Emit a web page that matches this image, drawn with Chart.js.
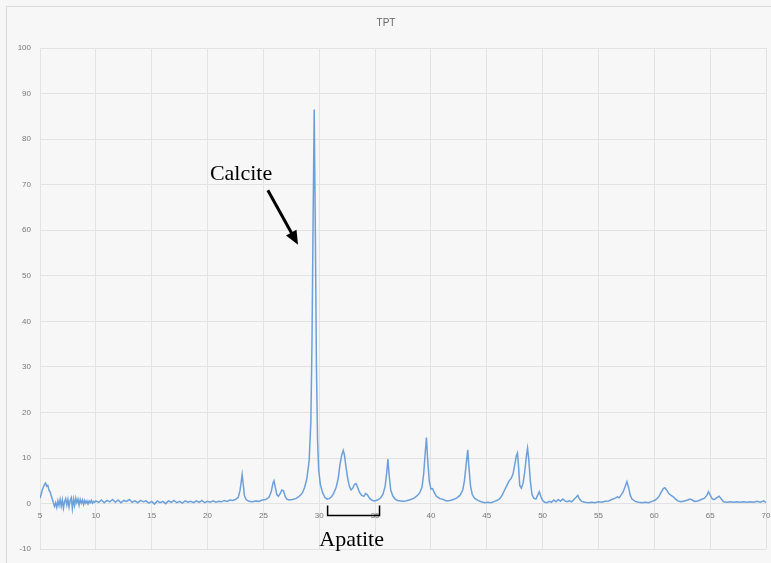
<!DOCTYPE html>
<html>
<head>
<meta charset="utf-8">
<script src="https://cdn.jsdelivr.net/npm/chart.js@4"></script>
<style>
  html, body { margin: 0; padding: 0; background: #fff; }
  #wrap { width: 771px; height: 563px; }
</style>
</head>
<body>
<div id="wrap"><canvas id="xrd" width="771" height="563"></canvas></div>
<script>
// TPT diffractogram, 2-theta vs intensity
const twoTheta = [
  5.0, 5.1, 5.2, 5.3, 5.4, 5.5, 5.6, 5.7, 5.8, 5.9, 6.0, 6.1, 6.2, 6.3, 6.4, 6.5, 6.6, 6.7, 6.8, 6.9,
  7.0, 7.1, 7.2, 7.3, 7.4, 7.5, 7.6, 7.7, 7.8, 7.9, 8.0, 8.1, 8.2, 8.3, 8.4, 8.5, 8.6, 8.7, 8.8, 8.9,
  9.0, 9.1, 9.2, 9.3, 9.4, 9.5, 9.6, 9.7, 9.8, 9.9, 10.0,
  10.25, 10.5, 10.75, 11, 11.25, 11.5, 11.75, 12, 12.25, 12.5, 12.75, 13, 13.25, 13.5, 13.75, 14,
  14.25, 14.5, 14.75, 15, 15.25, 15.5, 15.75, 16, 16.25, 16.5, 16.75, 17, 17.25, 17.5, 17.75, 18,
  18.25, 18.5, 18.75, 19, 19.25, 19.5, 19.75, 20, 20.25, 20.5, 20.75, 21, 21.25, 21.5, 21.75, 22,
  22.25, 22.5, 22.75, 22.9, 23.0, 23.1, 23.2, 23.3, 23.45, 23.7, 24.0, 24.3, 24.6, 24.9, 25.2, 25.5,
  25.7, 25.85, 25.95, 26.05, 26.2, 26.35, 26.5, 26.65, 26.8, 26.95, 27.1, 27.3, 27.6, 27.9, 28.1,
  28.3, 28.5, 28.7, 28.9, 29.1, 29.25, 29.35, 29.45, 29.55, 29.65, 29.75, 29.85, 29.95, 30.1, 30.3,
  30.5, 30.7, 30.9, 31.1, 31.3, 31.5, 31.7, 31.85, 32.0, 32.15, 32.25, 32.4, 32.55, 32.7, 32.85,
  33.0, 33.15, 33.3, 33.45, 33.6, 33.8, 34.0, 34.15, 34.3, 34.5, 34.7, 34.9, 35.1, 35.3, 35.5, 35.7,
  35.9, 36.05, 36.15, 36.25, 36.4, 36.6, 36.8, 37.0, 37.3, 37.6, 37.9, 38.2, 38.5, 38.8, 39.0, 39.2,
  39.35, 39.5, 39.6, 39.7, 39.85, 40.0, 40.15, 40.3, 40.5, 40.8, 41.1, 41.4, 41.7, 42.0, 42.3, 42.6,
  42.85, 43.0, 43.15, 43.3, 43.4, 43.55, 43.7, 43.9, 44.2, 44.5, 44.8, 45.1, 45.4, 45.7, 46.0, 46.2,
  46.4, 46.6, 46.8, 47.0, 47.2, 47.35, 47.5, 47.65, 47.75, 47.85, 47.95, 48.1, 48.25, 48.4, 48.55,
  48.65, 48.75, 48.9, 49.05, 49.2, 49.4, 49.55, 49.7, 49.85, 50.0, 50.2, 50.4, 50.6, 50.8, 51.0,
  51.2, 51.4, 51.6, 51.8, 52.0, 52.2, 52.4, 52.6, 52.8, 53.0, 53.15, 53.3, 53.5, 53.8, 54.1, 54.4,
  54.7, 55.0, 55.3, 55.6, 55.9, 56.2, 56.5, 56.7, 56.85, 57.0, 57.2, 57.4, 57.55, 57.7, 57.85, 58.0,
  58.3, 58.6, 58.9, 59.2, 59.5, 59.8, 60.1, 60.4, 60.6, 60.8, 60.95, 61.1, 61.3, 61.5, 61.7, 61.9,
  62.1, 62.4, 62.7, 63.0, 63.2, 63.4, 63.6, 63.9, 64.2, 64.5, 64.7, 64.85, 65.0, 65.2, 65.4, 65.6,
  65.8, 66.0, 66.2, 66.5, 66.8, 67.1, 67.4, 67.7, 68.0, 68.3, 68.6, 68.9, 69.2, 69.5, 69.8, 70.0
];
const intensity = [
  1.2, 2.0, 3.0, 3.6, 4.2, 4.5, 3.8, 4.0, 3.0, 2.6, 1.8, 1.0, 0.2, -0.6, 0.2, -0.8, 0.6, -0.4, 0.9, -0.6,
  0.8, -1.0, 0.4, 1.1, -0.3, 0.9, -0.7, 0.7, 1.3, -1.1, 1.0, -0.4, 1.2, 0.2, 1.0, -0.3, 0.9, 0.1, 0.8, -0.2,
  0.7, 0.1, 0.6, -0.1, 0.6, 0.2, 0.7, 0.1, 0.5, 0.3, 0.6,
  0.3, 0.8, 0.2, 0.7, 0.4, 0.9, 0.3, 0.8, 0.2, 0.7, 0.5, 0.9, 0.3, 0.6, 0.2, 0.7,
  0.4, 0.6, 0.1, 0.5, -0.1, 0.6, 0.2, 0.5, 0.0, 0.6, 0.3, 0.7, 0.2, 0.5, 0.1, 0.6,
  0.3, 0.5, 0.2, 0.6, 0.3, 0.7, 0.2, 0.5, 0.3, 0.6, 0.3, 0.5, 0.4, 0.7, 0.5, 0.8,
  0.7, 0.9, 1.4, 2.8, 4.5, 6.4, 4.2, 1.8, 0.9, 0.5, 0.4, 0.6, 0.5, 0.8, 0.9, 1.4,
  2.6, 4.4, 5.0, 3.8, 2.0, 1.6, 2.2, 3.0, 2.8, 1.6, 1.0, 0.8, 0.9, 1.1, 1.4,
  1.8, 2.4, 3.6, 5.6, 9.5, 18, 35, 62, 86.5, 60, 30, 14, 7.5, 4.2, 2.4,
  1.4, 1.0, 1.1, 1.5, 2.3, 3.5, 5.5, 8.5, 10.5, 11.7, 10.8, 8.0, 5.5, 3.8, 3.0,
  3.4, 4.2, 4.4, 3.5, 2.5, 1.8, 1.6, 2.2, 2.0, 1.2, 0.8, 0.6, 0.7, 0.9, 1.3, 2.0,
  3.8, 7.0, 9.8, 6.5, 3.0, 1.6, 1.0, 0.7, 0.6, 0.5, 0.7, 0.9, 1.2, 1.8, 2.4, 3.6,
  6.5, 11.5, 14.5, 10.0, 5.0, 3.2, 3.3, 2.4, 1.6, 1.1, 0.9, 0.6, 0.7, 0.9, 1.2, 1.8,
  3.0, 5.0, 8.5, 11.8, 8.0, 3.8, 2.0, 1.2, 0.7, 0.4, 0.2, 0.3, 0.2, 0.5, 0.8, 1.2,
  2.0, 3.0, 4.0, 5.0, 5.6, 6.5, 8.5, 10.5, 11.1, 8.0, 4.0, 3.4, 4.5, 7.0, 10.5,
  12.2, 10.0, 5.0, 2.0, 1.2, 1.0, 1.8, 2.6, 1.5, 0.7, 0.3, 0.2, 0.5, 0.3, 0.8,
  0.4, 0.9, 0.5, 1.0, 0.6, 0.4, 0.6, 0.4, 0.9, 1.4, 1.8, 1.0, 0.5, 0.3, 0.2, 0.3,
  0.2, 0.4, 0.3, 0.5, 0.6, 0.9, 1.2, 1.5, 1.3, 1.8, 2.5, 3.8, 4.8, 3.5, 1.8, 1.0,
  0.5, 0.3, 0.2, 0.3, 0.2, 0.5, 0.8, 1.5, 2.4, 3.3, 3.5, 3.0, 2.2, 1.8, 1.5, 1.0,
  0.6, 0.4, 0.6, 0.8, 1.0, 0.8, 0.5, 0.6, 0.9, 1.2, 1.8, 2.6, 1.9, 1.0, 0.9, 1.3,
  1.6, 1.0, 0.4, 0.3, 0.4, 0.3, 0.4, 0.3, 0.4, 0.3, 0.4, 0.3, 0.5, 0.3, 0.6, 0.2
];

const chartTitle = "TPT";
const calciteLabel = "Calcite";
const apatiteLabel = "Apatite";
const apatiteRange = [30.75, 35.4];

const points = twoTheta.map((t, i) => ({ x: t, y: intensity[i] }));

const notes = {
  id: "notes",
  beforeDraw(chart) {
    const c = chart.ctx;
    c.save();
    c.fillStyle = "#f7f7f7";
    c.fillRect(0, 0, chart.width, chart.height);
    c.strokeStyle = "#d9d9d9";
    c.lineWidth = 1;
    c.strokeRect(6.5, 6.5, chart.width - 6, chart.height - 6);
    c.restore();
  },
  afterDraw(chart) {
    const c = chart.ctx;
    const xs = chart.scales.x, ys = chart.scales.y;
    c.save();
    c.fillStyle = "#000";
    c.strokeStyle = "#000";
    c.font = "22px 'Liberation Serif', 'Times New Roman', serif";
    c.textAlign = "center";
    c.textBaseline = "middle";
    c.fillText(calciteLabel, xs.getPixelForValue(23.0), ys.getPixelForValue(72.4));
    c.fillText(apatiteLabel, xs.getPixelForValue(32.9), ys.getPixelForValue(-8.0));

    // arrow to the calcite peak
    const x0 = xs.getPixelForValue(25.4), y0 = ys.getPixelForValue(68.8);
    const x1 = xs.getPixelForValue(28.1), y1 = ys.getPixelForValue(56.8);
    const ang = Math.atan2(y1 - y0, x1 - x0);
    c.lineWidth = 3;
    c.beginPath();
    c.moveTo(x0, y0);
    c.lineTo(x1 - 10 * Math.cos(ang), y1 - 10 * Math.sin(ang));
    c.stroke();
    c.beginPath();
    c.moveTo(x1, y1);
    c.lineTo(x1 - 14 * Math.cos(ang) + 6 * Math.sin(ang), y1 - 14 * Math.sin(ang) - 6 * Math.cos(ang));
    c.lineTo(x1 - 14 * Math.cos(ang) - 6 * Math.sin(ang), y1 - 14 * Math.sin(ang) + 6 * Math.cos(ang));
    c.closePath();
    c.fill();

    // apatite bracket
    const bl = xs.getPixelForValue(apatiteRange[0]), br = xs.getPixelForValue(apatiteRange[1]);
    const bt = ys.getPixelForValue(-0.4), bb = ys.getPixelForValue(-2.6);
    c.lineWidth = 1.5;
    c.beginPath();
    c.moveTo(bl, bt);
    c.lineTo(bl, bb);
    c.lineTo(br, bb);
    c.lineTo(br, bt);
    c.stroke();
    c.restore();
  }
};

new Chart(document.getElementById("xrd"), {
  type: "line",
  data: {
    datasets: [{
      label: chartTitle,
      data: points,
      borderColor: "#6ca0da",
      borderWidth: 1.5,
      pointRadius: 0,
      tension: 0,
      fill: false
    }]
  },
  options: {
    responsive: false,
    animation: false,
    layout: { padding: { left: 6, right: 5, top: 6, bottom: 11 } },
    plugins: {
      legend: { display: false },
      tooltip: { enabled: false },
      title: {
        display: true,
        text: chartTitle,
        color: "#666",
        font: { size: 10, family: "'Liberation Sans', Arial, sans-serif", weight: "normal" },
        padding: { top: 11, bottom: 19 }
      }
    },
    scales: {
      x: {
        type: "linear",
        min: 5,
        max: 70,
        position: { y: 0 },
        grid: { color: "#e2e2e2", drawTicks: false },
        border: { display: false },
        afterFit(scale) { scale.paddingLeft = 0; scale.paddingRight = 0; },
        ticks: {
          stepSize: 5,
          padding: 7,
          color: "#777",
          font: { size: 8, family: "'Liberation Sans', Arial, sans-serif" }
        }
      },
      y: {
        min: -10,
        max: 100,
        grid: { color: "#e2e2e2", drawTicks: false },
        border: { display: false },
        afterFit(scale) { scale.width = 34; },
        ticks: {
          stepSize: 10,
          padding: 9,
          color: "#777",
          font: { size: 8, family: "'Liberation Sans', Arial, sans-serif" }
        }
      }
    }
  },
  plugins: [notes]
});
</script>
</body>
</html>
